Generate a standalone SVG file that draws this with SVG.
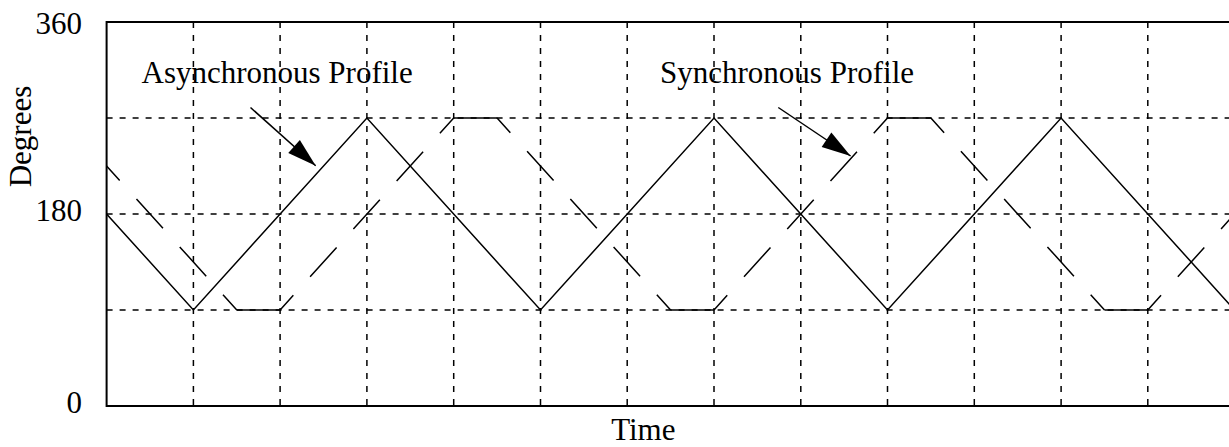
<svg xmlns="http://www.w3.org/2000/svg" width="1229" height="447" viewBox="0 0 1229 447">
<style>
text{font-family:"Liberation Serif","Times New Roman",serif;font-size:31px;fill:#000}
.grid{stroke:#000;stroke-width:1.5;stroke-dasharray:6 7;fill:none}
.axis{stroke:#000;stroke-width:2;fill:none}
.solid{stroke:#000;stroke-width:1.5;fill:none;stroke-linejoin:miter}
.dsl{stroke:#000;stroke-width:1.5;fill:none;stroke-dasharray:39.5 25;stroke-dashoffset:19.75}
.flat{stroke:#000;stroke-width:1.5;fill:none}
.arrow{stroke:#000;stroke-width:1.5;fill:none;marker-end:url(#head)}
</style>
<defs>
<clipPath id="plot"><rect x="106.6" y="22" width="1122.4" height="384"/></clipPath>
<marker id="head" viewBox="-30 -10 31 20" refX="0" refY="0" markerWidth="31" markerHeight="20" markerUnits="userSpaceOnUse" orient="auto"><path d="M0,0 L-29,-8.7 L-29,8.7 z" fill="#000"/></marker>
</defs>
<rect width="1229" height="447" fill="#fff"/>
<g id="grid">
<line class="grid" x1="193.4" y1="22" x2="193.4" y2="406"/>
<line class="grid" x1="280.1" y1="22" x2="280.1" y2="406"/>
<line class="grid" x1="366.9" y1="22" x2="366.9" y2="406"/>
<line class="grid" x1="453.7" y1="22" x2="453.7" y2="406"/>
<line class="grid" x1="540.5" y1="22" x2="540.5" y2="406"/>
<line class="grid" x1="627.2" y1="22" x2="627.2" y2="406"/>
<line class="grid" x1="714.0" y1="22" x2="714.0" y2="406"/>
<line class="grid" x1="800.8" y1="22" x2="800.8" y2="406"/>
<line class="grid" x1="887.5" y1="22" x2="887.5" y2="406"/>
<line class="grid" x1="974.3" y1="22" x2="974.3" y2="406"/>
<line class="grid" x1="1061.1" y1="22" x2="1061.1" y2="406"/>
<line class="grid" x1="1147.8" y1="22" x2="1147.8" y2="406"/>
<line class="grid" x1="106.6" y1="118" x2="1229" y2="118"/>
<line class="grid" x1="106.6" y1="214" x2="1229" y2="214"/>
<line class="grid" x1="106.6" y1="310" x2="1229" y2="310"/>
</g>
<g id="axes">
<polyline class="axis" points="1229,22 106.6,22 106.6,406 1229,406"/>
</g>
<g id="asynchronous-profile" clip-path="url(#plot)">
<polyline class="solid" points="19.8,118 193.4,310 366.9,118 540.5,310 714.0,118 887.5,310 1061.1,118 1234.6,310"/>
</g>
<g id="synchronous-profile" clip-path="url(#plot)">
<line class="dsl" x1="63.2" y1="118" x2="236.8" y2="310"/>
<line class="flat" x1="236.8" y1="310" x2="280.1" y2="310"/>
<line class="dsl" x1="280.1" y1="310" x2="453.7" y2="118"/>
<line class="flat" x1="453.7" y1="118" x2="497.1" y2="118"/>
<line class="dsl" x1="497.1" y1="118" x2="670.6" y2="310"/>
<line class="flat" x1="670.6" y1="310" x2="714.0" y2="310"/>
<line class="dsl" x1="714.0" y1="310" x2="887.5" y2="118"/>
<line class="flat" x1="887.5" y1="118" x2="930.9" y2="118"/>
<line class="dsl" x1="930.9" y1="118" x2="1104.5" y2="310"/>
<line class="flat" x1="1104.5" y1="310" x2="1147.8" y2="310"/>
<line class="dsl" x1="1147.8" y1="310" x2="1321.4" y2="118"/>
</g>
<g id="connectors">
<line class="arrow" x1="250.5" y1="107.5" x2="315.7" y2="165.7"/>
<line class="arrow" x1="778.3" y1="107.5" x2="850.6" y2="156"/>
</g>
<g id="labels">
<text id="label-async" x="141.5" y="83">Asynchronous Profile</text>
<text id="label-sync" x="660" y="83">Synchronous Profile</text>
<text id="y360" x="82" y="34" text-anchor="end">360</text>
<text id="y180" x="82" y="221" text-anchor="end">180</text>
<text id="y0" x="82" y="413" text-anchor="end">0</text>
<text id="ylabel" transform="translate(31,136.5) rotate(-90)" text-anchor="middle">Degrees</text>
<text id="xlabel" x="643.3" y="440" text-anchor="middle">Time</text>
</g>
</svg>
